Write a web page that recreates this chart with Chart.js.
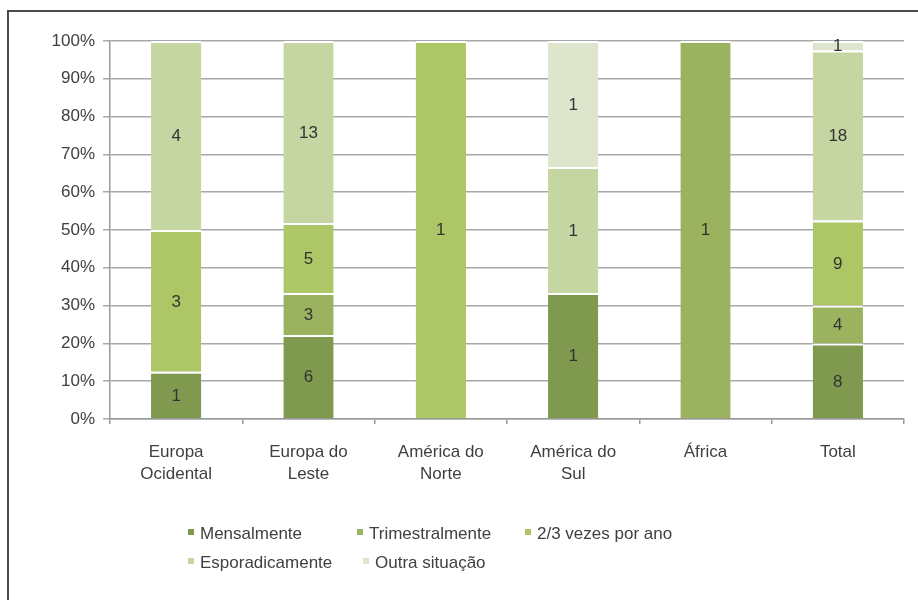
<!DOCTYPE html>
<html>
<head>
<meta charset="utf-8">
<script src="https://cdn.jsdelivr.net/npm/chart.js@4"></script>
<style>
  html, body { margin: 0; padding: 0; background: #fff; }
  #wrap { position: relative; width: 918px; height: 600px; overflow: hidden; background: #fff; }
  #frame { position: absolute; left: 7px; top: 10px; width: 940px; height: 620px;
           border-top: 2px solid #4a4a4a; border-left: 2px solid #4a4a4a; pointer-events: none; }
  .leg { position: absolute; font-family: 'Liberation Sans', Arial, sans-serif; font-size: 17px;
         color: #404040; white-space: nowrap; line-height: 20px; }
  .leg i { display: inline-block; width: 6px; height: 6px; margin-right: 6px; vertical-align: 4px; }
</style>
</head>
<body>
<div id="wrap">
  <canvas id="c" width="918" height="600"></canvas>
  <div id="legend"></div>
  <div id="frame"></div>
</div>
<script>
// ---- data ----
const categories = [["Europa", "Ocidental"], ["Europa do", "Leste"], ["América do", "Norte"], ["América do", "Sul"], "África", "Total"];
const seriesNames = ["Mensalmente", "Trimestralmente", "2/3 vezes por ano", "Esporadicamente", "Outra situação"];
const mensalmente     = [1, 6, 0, 1, 0, 8];
const trimestralmente = [0, 3, 0, 0, 1, 4];
const duasTresVezes   = [3, 5, 1, 0, 0, 9];
const esporadicamente = [4, 13, 0, 1, 0, 18];
const outraSituacao   = [0, 0, 0, 1, 0, 1];
const yTickValues = [0, 10, 20, 30, 40, 50, 60, 70, 80, 90, 100];

// ---- styles ----
const seriesColors = ["#7f9a4f", "#9bb35e", "#adc666", "#c5d6a2", "#dde6cd"];
const FONT = "'Liberation Sans', Arial, sans-serif";

const counts = [mensalmente, trimestralmente, duasTresVezes, esporadicamente, outraSituacao];
const totals = categories.map((_, j) => counts.reduce((s, arr) => s + arr[j], 0));

const datasets = counts.map((arr, i) => ({
  label: seriesNames[i],
  data: arr.map((v, j) => v / totals[j] * 100),
  counts: arr,
  backgroundColor: seriesColors[i],
  borderColor: "#ffffff",
  borderWidth: { top: 2, bottom: 0, left: 0, right: 0 },
  borderSkipped: false,
  categoryPercentage: 1,
  barPercentage: 0.38
}));

const labelPlugin = {
  id: 'segLabels',
  afterDatasetsDraw(chart) {
    const ctx = chart.ctx;
    ctx.save();
    ctx.font = "17px " + FONT;
    ctx.fillStyle = "#333333";
    ctx.textAlign = "center";
    ctx.textBaseline = "middle";
    chart.data.datasets.forEach((ds, i) => {
      const meta = chart.getDatasetMeta(i);
      meta.data.forEach((el, j) => {
        const v = ds.counts[j];
        if (!v) return;
        const p = el.getProps(['x', 'y', 'base'], true);
        ctx.fillText(String(v), p.x, (p.y + p.base) / 2 + 1);
      });
    });
    ctx.restore();
  }
};

new Chart(document.getElementById('c'), {
  type: 'bar',
  data: { labels: categories, datasets },
  options: {
    responsive: false,
    animation: false,
    events: [],
    layout: { padding: { left: 0, right: 14, top: 41, bottom: 111 } },
    plugins: { legend: { display: false }, tooltip: { enabled: false } },
    scales: {
      x: {
        stacked: true,
        afterFit(scale) { scale.height = 70; },
        grid: { display: true, drawOnChartArea: false, drawTicks: true, tickLength: 5, color: "#9a9a9a", lineWidth: 1.5, offset: true },
        border: { display: true, color: "#9a9a9a", width: 1.5 },
        ticks: { color: "#404040", padding: 17, maxRotation: 0, autoSkip: false,
                 font: { family: FONT, size: 17, lineHeight: 1.3 } }
      },
      y: {
        stacked: true,
        min: 0, max: 100,
        afterFit(scale) { scale.width = 110; },
        afterBuildTicks(scale) { scale.ticks = yTickValues.map(v => ({ value: v })); },
        grid: { color: "#a8a8a8", lineWidth: 1.5, tickLength: 7 },
        border: { display: true, color: "#9a9a9a", width: 1.5 },
        ticks: { color: "#404040", padding: 8, callback: v => v + "%",
                 font: { family: FONT, size: 17 } }
      }
    }
  },
  plugins: [labelPlugin]
});

// ---- legend (HTML) ----
const legendSlots = [[188, 524], [357, 524], [525, 524], [188, 553], [363, 553]];
const legendEl = document.getElementById('legend');
seriesNames.forEach((name, i) => {
  const d = document.createElement('div');
  d.className = 'leg';
  d.style.left = legendSlots[i][0] + 'px';
  d.style.top = legendSlots[i][1] + 'px';
  const sw = document.createElement('i');
  sw.style.background = seriesColors[i];
  d.appendChild(sw);
  d.appendChild(document.createTextNode(name));
  legendEl.appendChild(d);
});
</script>
</body>
</html>
